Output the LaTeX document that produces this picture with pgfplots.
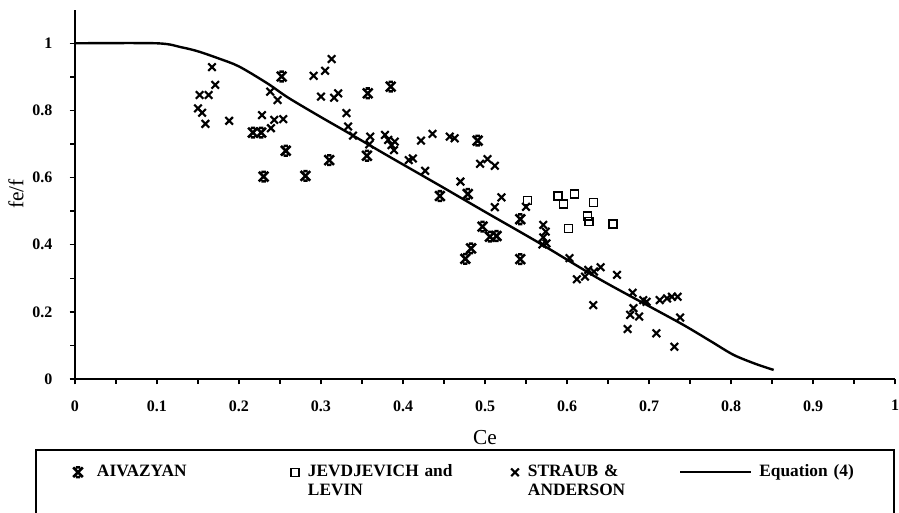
\documentclass[border=0pt]{standalone}
\usepackage{fontspec}
\setmainfont{Liberation Serif}
\usepackage{pgfplots}
\pgfplotsset{compat=1.18}
\pgfdeclareplotmark{hg}{%
  \pgfpathmoveto{\pgfqpoint{-\pgfplotmarksize}{-\pgfplotmarksize}}%
  \pgfpathlineto{\pgfqpoint{\pgfplotmarksize}{\pgfplotmarksize}}%
  \pgfpathmoveto{\pgfqpoint{-\pgfplotmarksize}{\pgfplotmarksize}}%
  \pgfpathlineto{\pgfqpoint{\pgfplotmarksize}{-\pgfplotmarksize}}%
  \pgfpathmoveto{\pgfqpoint{-0.45\pgfplotmarksize}{\pgfplotmarksize}}%
  \pgfpathlineto{\pgfqpoint{0.45\pgfplotmarksize}{\pgfplotmarksize}}%
  \pgfpathmoveto{\pgfqpoint{-0.45\pgfplotmarksize}{-\pgfplotmarksize}}%
  \pgfpathlineto{\pgfqpoint{0.45\pgfplotmarksize}{-\pgfplotmarksize}}%
  \pgfusepathqstroke}
\pgfplotsset{
  markleg/.style={legend image code/.code={\path[draw=none,fill=none] (0pt,-4pt) rectangle (9pt,4pt); \draw[##1] plot coordinates {(4.5pt,0pt)};}},
  lineleg/.style={legend image code/.code={\draw[##1] (0pt,0pt) -- (53.25pt,0pt);}},
}
\begin{document}
\begin{tikzpicture}
\begin{axis}[
  x=615pt, y=251.775pt,
  xmin=0, xmax=1, ymin=0, ymax=1.1,
  axis x line=bottom, axis y line=left,
  axis line style={-, line width=1.3pt},
  clip=false,
  xtick={0,0.1,0.2,0.3,0.4,0.5,0.6,0.7,0.8,0.9,1},
  xticklabels={0,0.1,0.2,0.3,0.4,0.5,0.6,0.7,0.8,0.9,1},
  minor x tick num=1,
  ytick={0,0.2,0.4,0.6,0.8,1},
  yticklabels={0,0.2,0.4,0.6,0.8,1},
  minor y tick num=1,
  tick align=outside,
  major tick length=4pt, minor tick length=3.5pt,
  tick style={black, line width=1pt},
  ticklabel style={font=\bfseries\fontsize{12}{14}\selectfont},
  xticklabel style={yshift=-8.5pt},
  yticklabel style={xshift=-9.4pt},
  xlabel={Ce}, ylabel={fe/f},
  every axis x label/.style={at={(axis cs:0.5,-0.1758)}, anchor=center, font=\fontsize{16}{18}\selectfont},
  every axis y label/.style={at={(axis cs:-0.072,0.551)}, anchor=center, rotate=90, font=\fontsize{16}{18}\selectfont},
  legend columns=4,
  legend cell align=left,
  legend style={at={(axis cs:-0.00366,-0.258)}, anchor=north west, draw=none, fill=none,
    inner sep=0pt, outer sep=0pt, column sep=5.25pt, row sep=4pt,
    font=\bfseries\fontsize{13}{15}\selectfont,
    nodes={inner sep=0pt, outer sep=0pt},
    /tikz/every even column/.append style={text height=8.5pt, text depth=2.5pt, align=left},
    /tikz/column 2/.append style={text width=143.25pt},
    /tikz/column 4/.append style={text width=145.5pt},
    /tikz/column 6/.append style={text width=108pt},
    /tikz/column 8/.append style={text width=95pt}},
]
\addplot[only marks, mark=hg, mark size=3.6pt, line width=1.9pt, black, markleg]
coordinates {
(0.217,0.734) (0.227,0.734) (0.252,0.901) (0.257,0.680) (0.230,0.603)
(0.281,0.605) (0.357,0.851) (0.385,0.871) (0.310,0.652) (0.356,0.665)
(0.445,0.545) (0.479,0.551) (0.491,0.710) (0.497,0.454) (0.506,0.424)
(0.514,0.426) (0.483,0.389) (0.476,0.358) (0.543,0.476) (0.543,0.357)
};
\addlegendentry{\hspace{4.5pt}AIVAZYAN}
\addplot[only marks, mark=square, mark size=3pt, line width=1.1pt, black, markleg]
coordinates {
(0.552,0.531) (0.589,0.545) (0.596,0.521) (0.609,0.551) (0.632,0.525)
(0.625,0.486) (0.627,0.469) (0.656,0.462) (0.602,0.449)
};
\addlegendentry{JEVDJEVICH and}
\addplot[only marks, mark=x, mark size=4pt, line width=1.6pt, black, markleg]
coordinates {
(0.167,0.929) (0.171,0.876) (0.152,0.846) (0.163,0.846) (0.150,0.806)
(0.155,0.793) (0.159,0.760) (0.188,0.769) (0.228,0.786) (0.239,0.747)
(0.243,0.772) (0.254,0.774) (0.238,0.856) (0.247,0.831) (0.291,0.903)
(0.305,0.918) (0.313,0.953) (0.300,0.841) (0.316,0.838) (0.321,0.851)
(0.331,0.792) (0.333,0.752) (0.339,0.725) (0.360,0.722) (0.359,0.699)
(0.378,0.727) (0.382,0.712) (0.390,0.707) (0.386,0.697) (0.389,0.682)
(0.407,0.652) (0.412,0.657) (0.422,0.710) (0.436,0.730) (0.457,0.722)
(0.463,0.717) (0.427,0.620) (0.470,0.588) (0.494,0.641) (0.503,0.655)
(0.512,0.635) (0.512,0.512) (0.520,0.541) (0.550,0.513) (0.571,0.459)
(0.574,0.439) (0.571,0.422) (0.575,0.404) (0.570,0.401) (0.603,0.360)
(0.612,0.297) (0.622,0.305) (0.626,0.325) (0.633,0.320) (0.641,0.333)
(0.661,0.310) (0.632,0.220) (0.680,0.257) (0.693,0.235) (0.697,0.230)
(0.681,0.211) (0.677,0.191) (0.688,0.186) (0.674,0.149) (0.709,0.136)
(0.713,0.235) (0.722,0.240) (0.728,0.245) (0.735,0.245) (0.738,0.183)
(0.731,0.096)
};
\addlegendentry{STRAUB \&}
\addplot[black, line width=1.8pt, smooth, lineleg]
coordinates {
(0,1) (0.1,1) (0.13,0.988) (0.15,0.976) (0.175,0.955) (0.2,0.931)
(0.235,0.88) (0.26,0.838) (0.3,0.78) (0.33,0.738) (0.385,0.660)
(0.445,0.576) (0.5,0.498) (0.567,0.404) (0.64,0.297) (0.7,0.217)
(0.742,0.161) (0.775,0.113) (0.803,0.072) (0.83,0.045) (0.852,0.027)
};
\addlegendentry{Equation (4)}
\addlegendimage{empty legend}\addlegendentry{~}
\addlegendimage{empty legend}\addlegendentry{LEVIN}
\addlegendimage{empty legend}\addlegendentry{ANDERSON}
\addlegendimage{empty legend}\addlegendentry{~}
\draw[line width=1.2pt] (axis cs:-0.0476,-0.2115) rectangle (axis cs:0.9988,-0.6);
\coordinate (BBsw) at (axis cs:-0.09146,-0.39917);
\coordinate (BBne) at (axis cs:1.00488,1.12899);
\end{axis}
\pgfresetboundingbox
\useasboundingbox (BBsw) rectangle (BBne);
\end{tikzpicture}
\end{document}
